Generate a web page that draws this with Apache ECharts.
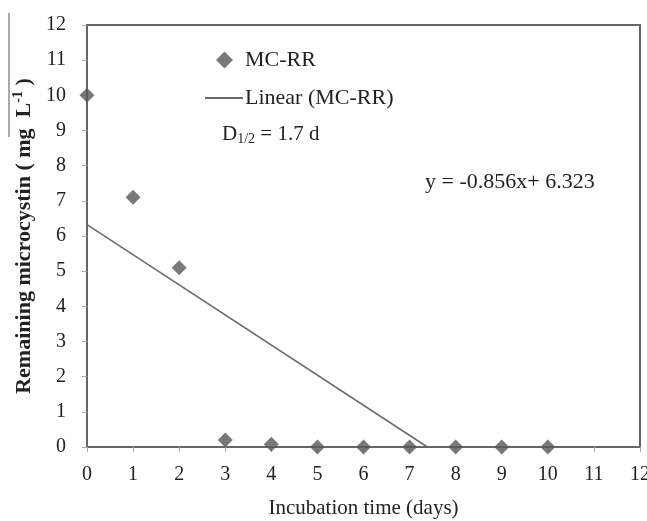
<!DOCTYPE html>
<html lang="en">
<head>
    <meta charset="UTF-8">
    <title>Remaining microcystin</title>
    <script src="https://cdnjs.cloudflare.com/ajax/libs/echarts/6.0.0/echarts.min.js"></script>
    <style>
        body { margin: 0; background: #fff; }
        #chart { width: 647px; height: 521px; }
    </style>
</head>
<body>
<div id="chart"></div>
<script>
// measured points (days, mg/L)
const days = [0, 1, 2, 3, 4, 5, 6, 7, 8, 9, 10];
const mcRR = [10, 7.1, 5.1, 0.2, 0.08, 0, 0, 0, 0, 0, 0];
// linear trend y = -0.856x + 6.323, drawn until it meets zero
const slope = -0.856;
const intercept = 6.323;
const trendX = [0, 7.387];
const axisTicks = [0, 12, 1];

const serif = '"Liberation Serif", "DejaVu Serif", serif';
const chart = echarts.init(document.getElementById('chart'));

chart.setOption({
    animation: false,
    grid: { left: 87, right: 7, top: 25, bottom: 74, outerBoundsMode: 'none', show: true, borderColor: '#666', borderWidth: 2 },
    // two legends so the diamond and the line can have their own widths
    legend: [
        {
            left: 211, top: 44, itemWidth: 17, itemHeight: 17,
            icon: 'diamond',
            textStyle: { fontFamily: serif, fontSize: 22, color: '#222', padding: [0, 0, 0, 7] },
            data: ['MC-RR']
        },
        {
            left: 200, top: 82, itemWidth: 38, itemHeight: 2,
            icon: 'path://M0,0 L38,0 L38,2 L0,2 Z',
            textStyle: { fontFamily: serif, fontSize: 22, color: '#222', padding: [0, 0, 0, -3] },
            data: ['Linear (MC-RR)']
        }
    ],
    xAxis: {
        type: 'value', min: axisTicks[0], max: axisTicks[1], interval: axisTicks[2],
        name: 'Incubation time (days)', nameLocation: 'middle', nameGap: 51,
        nameTextStyle: { fontFamily: serif, fontSize: 21, color: '#222' },
        axisLine: { lineStyle: { color: '#666', width: 2 } },
        axisTick: { show: true, length: 5, lineStyle: { color: '#aaa' } },
        axisLabel: { fontFamily: serif, fontSize: 20, color: '#222', margin: 18 },
        splitLine: { show: false }
    },
    yAxis: {
        type: 'value', min: axisTicks[0], max: axisTicks[1], interval: axisTicks[2],
        name: '{b|Remaining microcystin ( mg  L}{sup|-1}{b| )}', nameLocation: 'middle', nameGap: 49,
        nameTextStyle: {
            rich: {
                b: { fontFamily: serif, fontSize: 22, fontWeight: 'bold', color: '#222' },
                sup: { fontFamily: serif, fontSize: 14, fontWeight: 'bold', color: '#222', verticalAlign: 'bottom', padding: [0, 0, 11, 0] }
            }
        },
        axisLine: { show: true, lineStyle: { color: '#666', width: 2 } },
        axisTick: { show: true, length: 5, lineStyle: { color: '#aaa' } },
        axisLabel: { fontFamily: serif, fontSize: 20, color: '#222', margin: 21 },
        splitLine: { show: false }
    },
    series: [
        {
            name: 'MC-RR', type: 'scatter', symbol: 'diamond', symbolSize: 15,
            itemStyle: { color: '#585858' },
            data: days.map((d, i) => [d, mcRR[i]])
        },
        {
            name: 'Linear (MC-RR)', type: 'line', symbol: 'none',
            lineStyle: { color: '#6a6a6a', width: 1.5 },
            itemStyle: { color: '#6a6a6a' },
            data: trendX.map(x => [x, Math.max(0, slope * x + intercept)])
        }
    ],
    graphic: [
        {
            type: 'text', left: 222, top: 124,
            style: {
                text: '{m|D}{s|1/2}{m| = 1.7 d}',
                rich: {
                    m: { fontFamily: serif, fontSize: 21, fill: '#222' },
                    s: { fontFamily: serif, fontSize: 14, fill: '#222', padding: [9, 0, 0, 0] }
                }
            }
        },
        {
            type: 'text', left: 425, top: 171,
            style: { text: 'y = -0.856x+ 6.323', fontFamily: serif, fontSize: 22, fill: '#222' }
        },
        {
            type: 'line', shape: { x1: 9, y1: 13, x2: 9, y2: 137 },
            style: { stroke: '#555', lineWidth: 1 }
        }
    ]
});
</script>
</body>
</html>
